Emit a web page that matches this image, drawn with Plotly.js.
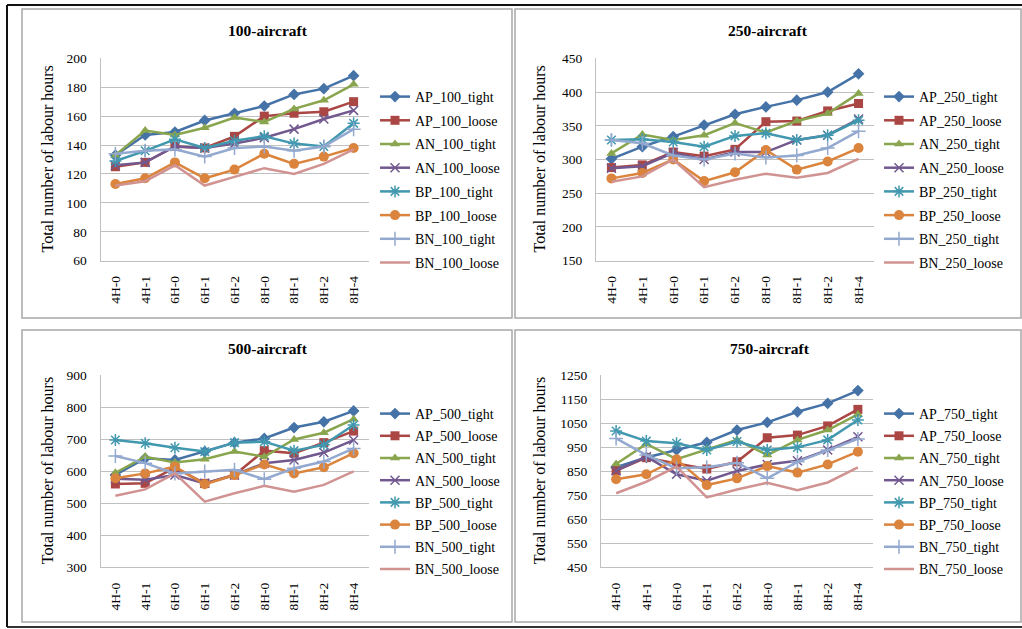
<!DOCTYPE html>
<html>
<head>
<meta charset="utf-8">
<script src="https://cdn.plot.ly/plotly-3.0.1.min.js"></script>
<style>html,body{margin:0;padding:0;background:#fff;}#chart{width:1022px;height:629px;}</style>
</head>
<body>
<div id="chart"></div>
<script>
const categories = ["4H-0","4H-1","6H-0","6H-1","6H-2","8H-0","8H-1","8H-2","8H-4"];

// 100-aircraft
const AP_100_tight = [133,147,149,157,162,167,175,179,188];
const AP_100_loose = [125,128,139,138,146,160,162,163,170];
const AN_100_tight = [133,150,147,152,159,156,165,171,182];
const AN_100_loose = [126,128,139,138,141,145,151,158,164];
const BP_100_tight = [129,136,144,138,143,146,141,139,155];
const BP_100_loose = [113,117,128,117,123,134,127,132,138];
const BN_100_tight = [134,136,137,132,138,139,136,139,151];
const BN_100_loose = [112,115,126,112,118,124,120,127,137];

// 250-aircraft
const AP_250_tight = [301,319,334,351,367,378,388,400,427];
const AP_250_loose = [288,292,311,305,315,356,357,372,383];
const AN_250_tight = [309,337,329,336,354,340,357,368,398];
const AN_250_loose = [287,290,310,300,311,311,329,336,360];
const BP_250_tight = [329,330,326,319,335,339,329,336,358];
const BP_250_loose = [272,280,300,268,281,314,285,297,317];
const BN_250_tight = [329,324,306,300,309,303,306,317,342];
const BN_250_loose = [267,275,300,259,270,279,273,280,301];

// 500-aircraft
const AP_500_tight = [588,640,635,661,689,702,736,754,788];
const AP_500_loose = [560,562,611,562,588,664,656,689,725];
const AN_500_tight = [595,645,627,637,661,645,699,720,762];
const AN_500_loose = [576,573,588,562,588,625,635,658,697];
const BP_500_tight = [697,687,673,661,689,692,664,682,744];
const BP_500_loose = [578,593,614,559,588,621,593,612,656];
const BN_500_tight = [647,625,593,599,604,575,609,630,671];
const BN_500_loose = [523,543,593,505,531,554,536,557,599];

// 750-aircraft
const AP_750_tight = [866,907,938,970,1021,1053,1097,1132,1185];
const AP_750_loose = [852,906,882,859,889,989,1000,1038,1107];
const AN_750_tight = [880,963,900,941,980,917,980,1021,1086];
const AN_750_loose = [852,910,837,810,851,878,893,938,993];
const BP_750_tight = [1017,975,966,938,973,938,949,980,1063];
const BP_750_loose = [816,837,899,792,820,871,844,878,931];
const BN_750_tight = [986,917,862,866,885,820,889,938,984];
const BN_750_loose = [758,806,869,741,774,802,771,803,866];

const panelTitles = ["100-aircraft","250-aircraft","500-aircraft","750-aircraft"];
const panelSizes = ["100","250","500","750"];
const seriesPrefixes = ["AP","AP","AN","AN","BP","BP","BN","BN"];
const seriesSuffixes = ["tight","loose","tight","loose","tight","loose","tight","loose"];
const panelData = [
  [AP_100_tight,AP_100_loose,AN_100_tight,AN_100_loose,BP_100_tight,BP_100_loose,BN_100_tight,BN_100_loose],
  [AP_250_tight,AP_250_loose,AN_250_tight,AN_250_loose,BP_250_tight,BP_250_loose,BN_250_tight,BN_250_loose],
  [AP_500_tight,AP_500_loose,AN_500_tight,AN_500_loose,BP_500_tight,BP_500_loose,BN_500_tight,BN_500_loose],
  [AP_750_tight,AP_750_loose,AN_750_tight,AN_750_loose,BP_750_tight,BP_750_loose,BN_750_tight,BN_750_loose]
];
const yRanges = [[60,200],[150,450],[300,900],[450,1250]];
const yDticks = [20,50,100,100];

const colors = ["#4572A7","#AA4643","#89A54E","#71588F","#4198AF","#DB843D","#93A9CF","#D19392"];
const symbols = ["diamond","square","triangle-up","x-thin-open","asterisk-open","circle","cross-thin-open",null];
const msizes = [9,9,9,9,10,10,10,0];

const W = 1022, H = 629;
const px = x => x / W;
const py = y => 1 - y / H;

// plot area rectangles in pixels [x0,x1,y0(top),y1(bottom)]
const areas = [
  [100.5,368.5,58.3,260.7],
  [596,874,58.3,260.7],
  [100.5,368.5,375,567.3],
  [601,873,375,567.3]
];
const legendPos = [[375,81],[879,81],[375,398],[879,398]];
const legendGaps = [2.5,2.5,1,1];
const titlePos = [[268,31],[768,31],[268,349],[770,349]];
const yTitleX = [47,539,47,539];

const FONT = "Liberation Serif, Times New Roman, serif";
const traces = [];
const layout = {
  width: W, height: H,
  margin: {l:0,r:0,t:0,b:0},
  paper_bgcolor: "#ffffff",
  plot_bgcolor: "rgba(0,0,0,0)",
  font: {family: FONT, size: 13, color: "#000"},
  showlegend: true,
  annotations: [],
  shapes: []
};

for (let p = 0; p < 4; p++) {
  const sfx = p === 0 ? "" : String(p + 1);
  const a = areas[p];
  for (let s = 0; s < 8; s++) {
    const t = {
      type: "scatter",
      x: categories,
      y: panelData[p][s],
      name: seriesPrefixes[s] + "_" + panelSizes[p] + "_" + seriesSuffixes[s],
      xaxis: "x" + sfx,
      yaxis: "y" + sfx,
      legend: "legend" + sfx,
      legendgroup: "g" + p + "_" + s,
      mode: symbols[s] ? "lines+markers" : "lines",
      line: {color: colors[s], width: 2.5},
      cliponaxis: false
    };
    if (symbols[s]) {
      t.marker = {symbol: symbols[s], size: msizes[s], color: colors[s],
                  line: {color: colors[s], width: (s === 3 || s === 4 || s === 6) ? 1.5 : 0}};
    }
    traces.push(t);
  }
  layout["xaxis" + sfx] = {
    domain: [px(a[0]), px(a[1])],
    anchor: "y" + sfx,
    type: "category",
    range: [-0.5, 8.5],
    tickangle: -90,
    tickfont: {family: FONT, size: 13.5, color: "#000"},
    ticklabelstandoff: 9,
    showgrid: false,
    showline: true,
    linecolor: "#c0c0c0",
    linewidth: 1,
    ticks: "",
    automargin: false,
    fixedrange: true
  };
  layout["yaxis" + sfx] = {
    domain: [py(a[3]), py(a[2])],
    anchor: "x" + sfx,
    range: yRanges[p],
    dtick: yDticks[p],
    tick0: yRanges[p][0],
    showgrid: true,
    gridcolor: "#c0c0c0",
    gridwidth: 1,
    showline: true,
    linecolor: "#c0c0c0",
    zeroline: false,
    ticks: "",
    ticklabelstandoff: 10,
    tickfont: {family: FONT, size: 13.5, color: "#000"},
    automargin: false,
    fixedrange: true
  };
  layout["legend" + sfx] = {
    x: px(legendPos[p][0]), y: py(legendPos[p][1]),
    xanchor: "left", yanchor: "top",
    xref: "paper", yref: "paper",
    bgcolor: "rgba(0,0,0,0)",
    font: {family: FONT, size: 14, color: "#000"},
    itemwidth: 30,
    tracegroupgap: legendGaps[p],
    traceorder: "grouped"
  };
  layout.annotations.push({
    text: "<b>" + panelTitles[p] + "</b>",
    x: px(titlePos[p][0]), y: py(titlePos[p][1]),
    xref: "paper", yref: "paper", xanchor: "center", yanchor: "middle",
    showarrow: false, font: {family: FONT, size: 15.5, color: "#000"}
  });
  layout.annotations.push({
    text: "Total number of labour hours",
    x: px(yTitleX[p]), y: py((a[2] + a[3]) / 2),
    xref: "paper", yref: "paper", xanchor: "center", yanchor: "middle",
    textangle: -90,
    showarrow: false, font: {family: FONT, size: 16, color: "#000"}
  });
}

// panel frames
const frames = [[22,512,9,318],[515,1021,9,318],[22,512,330,622],[515,1021,330,622]];
frames.forEach(f => {
  layout.shapes.push({type: "rect", xref: "paper", yref: "paper",
    x0: px(f[0]), x1: px(f[1]), y0: py(f[3]), y1: py(f[2]),
    line: {color: "#a8a8a8", width: 1.5}, fillcolor: "rgba(0,0,0,0)", layer: "below"});
});
// outer black border
layout.shapes.push({type: "line", xref: "paper", yref: "paper", x0: px(7), x1: 1, y0: py(5), y1: py(5), line: {color: "#111", width: 2}});
layout.shapes.push({type: "line", xref: "paper", yref: "paper", x0: px(7), x1: 1, y0: py(627), y1: py(627), line: {color: "#333", width: 2}});
layout.shapes.push({type: "line", xref: "paper", yref: "paper", x0: px(7), x1: px(7), y0: py(5), y1: py(627), line: {color: "#111", width: 2}});

Plotly.newPlot("chart", traces, layout, {displayModeBar: false, staticPlot: true});
</script>
</body>
</html>
